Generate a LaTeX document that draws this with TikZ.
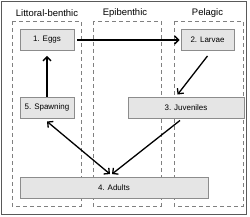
\documentclass[tikz,border=0pt]{standalone}
\usepackage{fontspec}
\setmainfont{Liberation Sans}
\usetikzlibrary{arrows.meta, positioning, calc}
\tikzset{
  stage/.style={draw=black!45, fill=black!10, line width=0.9bp, minimum width=#1, minimum height=21bp, inner sep=0pt, font=\fontsize{8}{9.5}\selectfont},
  zone/.style={draw=black!50, dashed, dash pattern=on 4bp off 3bp, line width=0.8bp},
  hdr/.style={font=\fontsize{9.5}{11}\selectfont},
  arr/.style={-{Straight Barb[length=4bp, width=8bp]}, line width=1.3bp},
  dbl/.style={{Straight Barb[length=4bp, width=8bp]}-{Straight Barb[length=4bp, width=8bp]}, line width=1.3bp},
}
\begin{document}
\begin{tikzpicture}[x=1bp, y=-1bp]
    \useasboundingbox (0,0) rectangle (250,217);
    \draw[black!65, line width=1.8bp] (1.5,1.5) rectangle (246.5,214.5);
    % habitat zones
    \draw[zone] (12,21) rectangle (81,206);
    \draw[zone] (93,21) rectangle (161,206);
    \draw[zone] (174,21) rectangle (243,206);
    \node[hdr] (hlit) at (47,13) {Littoral-benthic};
    \node[hdr] (hepi) at (125,13) {Epibenthic};
    \node[hdr] (hpel) at (207.5,13) {Pelagic};
    % life stages
    \node[stage=54bp] (eggs) at (47,40) {1. Eggs};
    \node[stage=53bp] (larvae) at (207.5,40) {2. Larvae};
    \node[stage=116bp] (juveniles) at (186,107.5) {3. Juveniles};
    \node[stage=54bp] (spawning) at (47,107.5) {5. Spawning};
    \node[stage=188bp] (adults) at (114,188) {4. Adults};
    \draw[arr, shorten <=3bp, shorten >=1bp] (eggs) -- (larvae);
    \draw[arr] ($(larvae.south)+(0,5)$) -- ($(juveniles.north west)+(50,-2)$);
    \draw[arr, shorten >=5bp] (spawning) -- (eggs);
    \draw[dbl] ($(spawning.south)+(0,3)$) -- ($(adults.north)+(-4,-3)$);
    \draw[arr] ($(juveniles.south)+(-6,2)$) -- ($(adults.north)+(-2,-3)$);
\end{tikzpicture}
\end{document}
